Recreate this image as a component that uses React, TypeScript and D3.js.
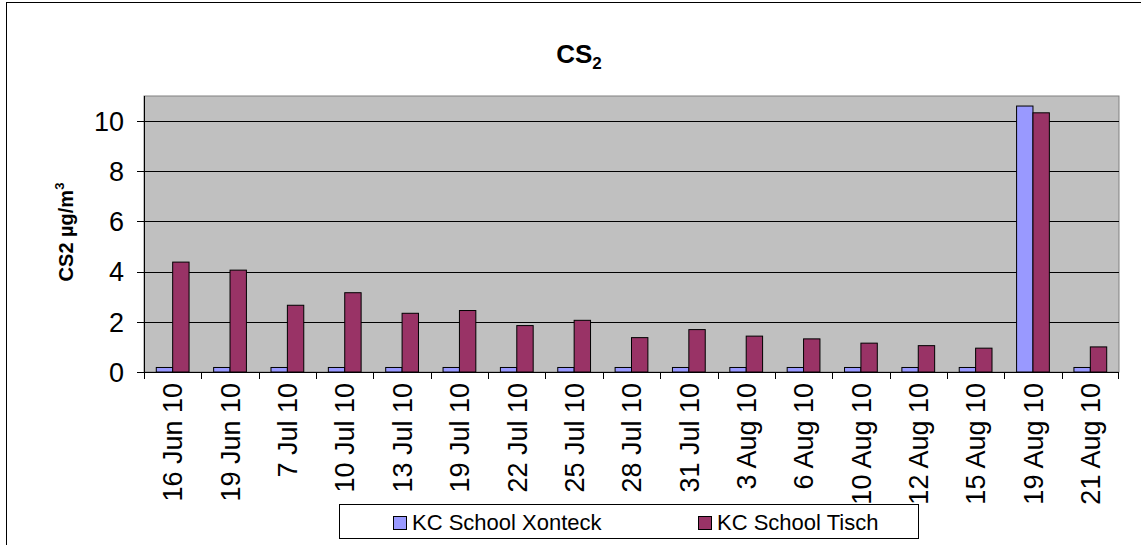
import React from "react";
import * as d3 from "d3";

const categories = ["16 Jun 10", "19 Jun 10", "7 Jul 10", "10 Jul 10", "13 Jul 10", "19 Jul 10", "22 Jul 10", "25 Jul 10", "28 Jul 10", "31 Jul 10", "3 Aug 10", "6 Aug 10", "10 Aug 10", "12 Aug 10", "15 Aug 10", "19 Aug 10", "21 Aug 10"];
const xonteck = [0.18, 0.18, 0.18, 0.18, 0.18, 0.18, 0.18, 0.18, 0.18, 0.18, 0.18, 0.18, 0.18, 0.18, 0.18, 10.6, 0.18];
const tisch = [4.38, 4.06, 2.66, 3.16, 2.34, 2.45, 1.85, 2.06, 1.37, 1.69, 1.43, 1.32, 1.15, 1.05, 0.95, 10.33, 1.0];
const seriesNames = ["KC School Xonteck", "KC School Tisch"];
const seriesColors = ["#9999FF", "#993366"];
const yTicks = [0, 2, 4, 6, 8, 10];

const W = 1141, H = 545;
const left = 144, right = 1119, top = 96, bottom = 372;
const FONT = "'Liberation Sans', Arial, sans-serif";

export default function App() {
  const x = d3.scaleBand<string>().domain(categories).range([left, right]).paddingInner(0).paddingOuter(0);
  const bw = x.bandwidth() / 3.5;
  const y = d3.scaleLinear().domain([0, 11]).range([bottom, top]);
  const series = [xonteck, tisch];

  return (
    <svg width={W} height={H} style={{ position: "absolute", left: 0, top: 0, background: "#fff" }} fontFamily={FONT}>
      <rect x={6.5} y={2.5} width={W + 10} height={H + 10} fill="#fff" stroke="#000" strokeWidth={1} />
      {/* Title */}
      <text x={579} y={63} textAnchor="middle" fontSize={26} fontWeight="bold">
        CS<tspan fontSize={17} dy={6}>2</tspan>
      </text>
      {/* plot area */}
      <rect x={left} y={top} width={right - left} height={bottom - top} fill="#C0C0C0" stroke="#808080" strokeWidth={1} />
      {yTicks.map((t) => (
        <g key={t}>
          {t > 0 && <line x1={left} x2={right} y1={Math.round(y(t)) + 0.5} y2={Math.round(y(t)) + 0.5} stroke="#000" strokeWidth={1} />}
          <line x1={left - 7} x2={left} y1={Math.round(y(t)) + 0.5} y2={Math.round(y(t)) + 0.5} stroke="#000" />
          <text x={left - 20} y={y(t)} dy="0.36em" textAnchor="end" fontSize={27}>{t}</text>
        </g>
      ))}
      {/* bars */}
      {categories.map((c, i) => (
        <g key={c}>
          {series.map((s, k) => {
            const bx = (x(c) as number) + bw * 0.75 + k * bw;
            return (
              <rect key={k} x={bx} y={y(s[i])} width={bw} height={bottom - y(s[i])} fill={seriesColors[k]} stroke="#000" strokeWidth={1} />
            );
          })}
        </g>
      ))}
      {/* axes */}
      <line x1={left + 0.5} x2={left + 0.5} y1={top} y2={bottom} stroke="#000" />
      <line x1={left} x2={right} y1={bottom + 0.5} y2={bottom + 0.5} stroke="#000" />
      {categories.map((c, i) => (
        <line key={"t" + i} x1={Math.round(x(c) as number) + 0.5} x2={Math.round(x(c) as number) + 0.5} y1={bottom} y2={bottom + 7} stroke="#000" />
      ))}
      <line x1={right - 0.5} x2={right - 0.5} y1={bottom} y2={bottom + 7} stroke="#000" />
      {categories.map((c) => {
        const cx = (x(c) as number) + x.bandwidth() / 2;
        return (
          <text key={"l" + c} transform={`translate(${cx},383) rotate(-90)`} textAnchor="end" dy="0.36em" fontSize={27}>{c}</text>
        );
      })}
      {/* y label */}
      <text transform={`translate(73,${232}) rotate(-90)`} textAnchor="middle" fontSize={20} fontWeight="bold">
        CS2 µg/m<tspan fontSize={13} dy={-9}>3</tspan>
      </text>
      {/* legend */}
      <rect x={339.5} y={504.5} width={579} height={34} fill="#fff" stroke="#000" />
      {seriesNames.map((n, k) => {
        const lx = k === 0 ? 393 : 698;
        return (
          <g key={n}>
            <rect x={lx + 0.5} y={516.5} width={13} height={13} fill={seriesColors[k]} stroke="#000" />
            <text x={lx + 19} y={529.5} fontSize={22}>{n}</text>
          </g>
        );
      })}
    </svg>
  );
}
